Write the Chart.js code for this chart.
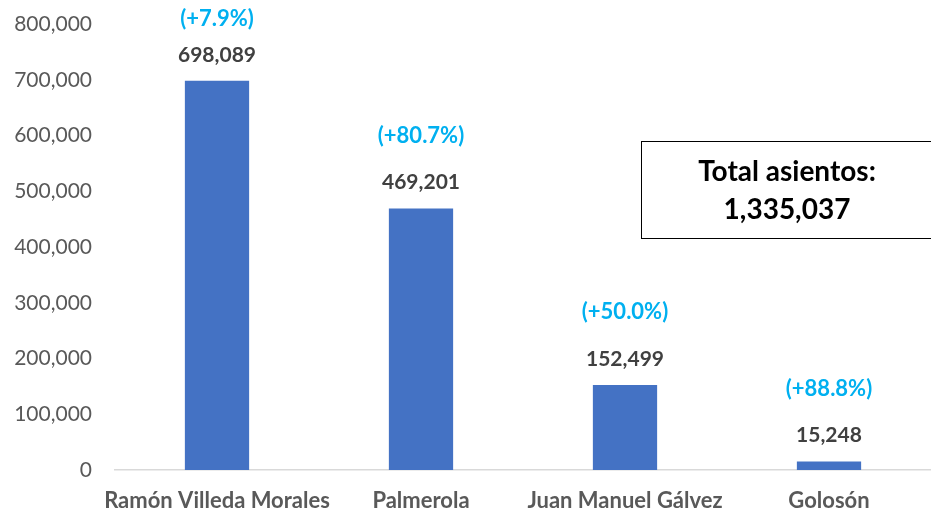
<!DOCTYPE html>
<html>
<head>
<meta charset="utf-8">
<script src="https://cdn.jsdelivr.net/npm/chart.js@4"></script>
<style>
    html, body { margin: 0; padding: 0; background: #ffffff; }
    #wrap { width: 931px; height: 512px; }
</style>
</head>
<body>
<div id="wrap"><canvas id="chart" width="931" height="512"></canvas></div>
<script>
const airports = ["Ramón Villeda Morales", "Palmerola", "Juan Manuel Gálvez", "Golosón"];
const seats = [698089, 469201, 152499, 15248];
const growth = ["(+7.9%)", "(+80.7%)", "(+50.0%)", "(+88.8%)"];
const totalLabel = "Total asientos:";
const totalValue = "1,335,037";

const font = "Lato, 'Open Sans', sans-serif";

// labels over the bars + the total box
const labelsPlugin = {
    id: "labels",
    afterDatasetsDraw(chart) {
        const ctx = chart.ctx;
        const meta = chart.getDatasetMeta(0);
        ctx.save();
        ctx.textAlign = "center";
        ctx.textBaseline = "middle";
        meta.data.forEach((bar, i) => {
            ctx.font = `bold 21px ${font}`;
            ctx.fillStyle = "#404040";
            ctx.fillText(seats[i].toLocaleString("en-US"), bar.x, bar.y - 26);
            ctx.font = `bold 22px ${font}`;
            ctx.fillStyle = "#00B0F0";
            ctx.fillText(growth[i], bar.x, Math.max(19, bar.y - 73));
        });

        ctx.strokeStyle = "#000000";
        ctx.lineWidth = 1;
        ctx.strokeRect(641.5, 141.5, 292, 97);
        ctx.fillStyle = "#000000";
        ctx.font = `bold 28px ${font}`;
        ctx.fillText(totalLabel, 787, 172);
        ctx.fillText(totalValue, 787, 210);
        ctx.restore();
    }
};

new Chart(document.getElementById("chart").getContext("2d"), {
    type: "bar",
    data: {
        labels: airports,
        datasets: [{
            data: seats,
            backgroundColor: "#4472C4",
            barPercentage: 0.63,
            categoryPercentage: 0.5
        }]
    },
    options: {
        responsive: false,
        animation: false,
        layout: { padding: { top: 24, right: -4, left: 0, bottom: 0 } },
        plugins: {
            legend: { display: false },
            tooltip: { enabled: false }
        },
        scales: {
            x: {
                grid: { display: false },
                border: { display: true, color: "#D9D9D9", width: 1.5 },
                ticks: {
                    color: "#595959",
                    font: { family: font, size: 22, weight: "bold" },
                    padding: 10,
                    autoSkip: false,
                    maxRotation: 0
                },
                afterFit: scale => {
                    scale.height = 42;
                    scale.paddingLeft = 0;
                    scale.paddingRight = 0;
                }
            },
            y: {
                min: 0,
                max: 800000,
                grid: { display: false, drawTicks: false },
                border: { display: false },
                ticks: {
                    stepSize: 100000,
                    color: "#595959",
                    font: { family: font, size: 21 },
                    padding: 23,
                    callback: v => v.toLocaleString("en-US")
                },
                afterFit: scale => {
                    scale.width = 115;
                    scale.paddingTop = 0;
                    scale.paddingBottom = 0;
                }
            }
        }
    },
    plugins: [labelsPlugin]
});
</script>
</body>
</html>
